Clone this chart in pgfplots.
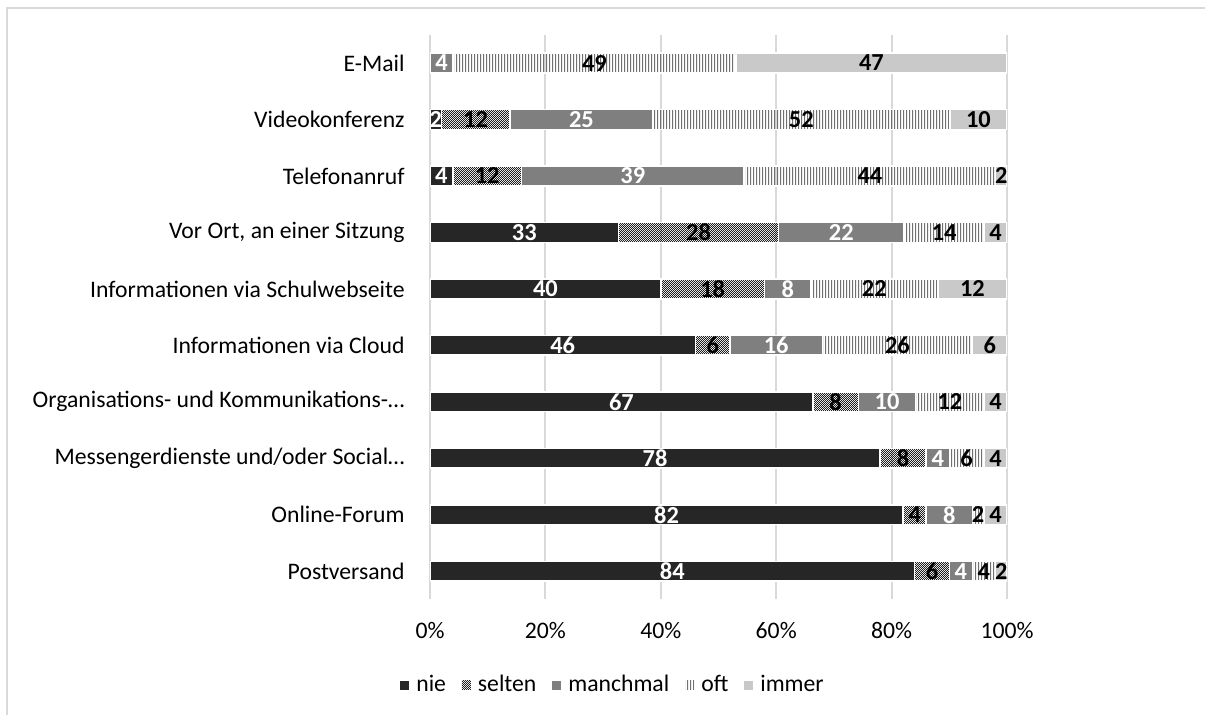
\documentclass[border=0pt]{standalone}
\usepackage{pgfplots}
\pgfplotsset{compat=1.18}
\usepackage{pgfplotstable}
\usepackage{fontspec}
\setmainfont{Carlito}
\usetikzlibrary{patterns}

\pgfdeclarepatternformonly{checks}{\pgfpointorigin}{\pgfpoint{1bp}{1bp}}{\pgfpoint{1bp}{1bp}}{%
 \pgfpathrectangle{\pgfpointorigin}{\pgfpoint{0.5bp}{0.5bp}}%
 \pgfpathrectangle{\pgfpoint{0.5bp}{0.5bp}}{\pgfpoint{0.5bp}{0.5bp}}%
 \pgfusepath{fill}}
\pgfdeclarepatternformonly{vlines}{\pgfpointorigin}{\pgfpoint{1.5bp}{1bp}}{\pgfpoint{1.5bp}{1bp}}{%
 \pgfpathrectangle{\pgfpointorigin}{\pgfpoint{0.55bp}{1bp}}%
 \pgfusepath{fill}}

\definecolor{cnie}{HTML}{262626}
\definecolor{csel}{HTML}{202020}
\definecolor{cman}{HTML}{7F7F7F}
\definecolor{coft}{HTML}{707070}
\definecolor{cimm}{HTML}{C9C9C9}
\definecolor{cgrid}{HTML}{D9D9D9}

\pgfplotstableread{
y nie selten manchmal oft immer sum
0 0 0 4 49 47 100
1 2 12 25 52 10 101
2 4 12 39 44 2 101
3 33 28 22 14 4 101
4 40 18 8 22 12 100
5 46 6 16 26 6 100
6 67 8 10 12 4 101
7 78 8 4 6 4 100
8 82 4 8 2 4 100
9 84 6 4 4 2 100
}\data

\begin{document}
\begin{tikzpicture}[font=\fontsize{11.85bp}{14bp}\selectfont]
\path[use as bounding box] (0,0) rectangle (602.5bp,357.5bp);
\draw[cgrid, line width=1bp] (3.5bp,0) -- (3.5bp,353.5bp) -- (602.5bp,353.5bp);
\begin{axis}[
  at={(215bp,57.8bp)}, anchor=south west,
  width=288.5bp, height=282.3bp, scale only axis,
  xbar stacked, bar width=0.35,
  xmin=0, xmax=100, ymin=-0.5, ymax=9.5, y dir=reverse,
  xtick={0,20,...,100},
  xticklabel={\pgfmathprintnumber{\tick}\%},
  ytick={0,...,9},
  yticklabels={E-Mail,Videokonferenz,Telefonanruf,{Vor Ort, an einer Sitzung},Informationen via Schulwebseite,Informationen via Cloud,Organisations- und Kommunikations-…,Messengerdienste und/oder Social…,Online-Forum,Postversand},
  xmajorgrids, grid style={cgrid, line width=1bp},
  axis line style={draw=none},
  major tick length=0pt,
  /pgf/number format/assume math mode=true,
  tick label style={font=\fontsize{11.85bp}{14bp}\selectfont, text=black},
  xticklabel style={yshift=-8bp},
  yticklabel style={inner xsep=0pt, xshift=-12.5bp},
  point meta=explicit,
  nodes near coords={\pgfmathfloatifflags{\pgfplotspointmeta}{0}{}{\pgfmathprintnumber{\pgfplotspointmeta}}},
  every node near coord/.append style={font=\bfseries\fontsize{12.2bp}{14bp}\selectfont, inner sep=0pt},
  legend style={at={(0.3189,-0.152)}, anchor=center, legend columns=-1, draw=none,
     font=\fontsize{11.85bp}{14bp}\selectfont,
     /tikz/every odd column/.append style={column sep=1.5bp},
     /tikz/every even column/.append style={column sep=6bp}},
  legend image code/.code={\path[#1,draw=none] (0bp,-2.2bp) rectangle (4.5bp,2.3bp);},
]
\addplot[fill=cnie, draw=white, line width=0.75bp, every node near coord/.append style={text=white}]
  table[x expr=\thisrow{nie}*100/\thisrow{sum}, y=y, meta=nie] {\data};
\addplot[pattern=checks, pattern color=csel, draw=white, line width=0.75bp, every node near coord/.append style={text=black}]
  table[x expr=\thisrow{selten}*100/\thisrow{sum}, y=y, meta=selten] {\data};
\addplot[fill=cman, draw=white, line width=0.75bp, every node near coord/.append style={text=white}]
  table[x expr=\thisrow{manchmal}*100/\thisrow{sum}, y=y, meta=manchmal] {\data};
\addplot[pattern=vlines, pattern color=coft, draw=white, line width=0.75bp, every node near coord/.append style={text=black}]
  table[x expr=\thisrow{oft}*100/\thisrow{sum}, y=y, meta=oft] {\data};
\addplot[fill=cimm, draw=white, line width=0.75bp, every node near coord/.append style={text=black}]
  table[x expr=\thisrow{immer}*100/\thisrow{sum}, y=y, meta=immer] {\data};
\legend{nie,selten,manchmal,oft,immer}
\end{axis}
\end{tikzpicture}
\end{document}
